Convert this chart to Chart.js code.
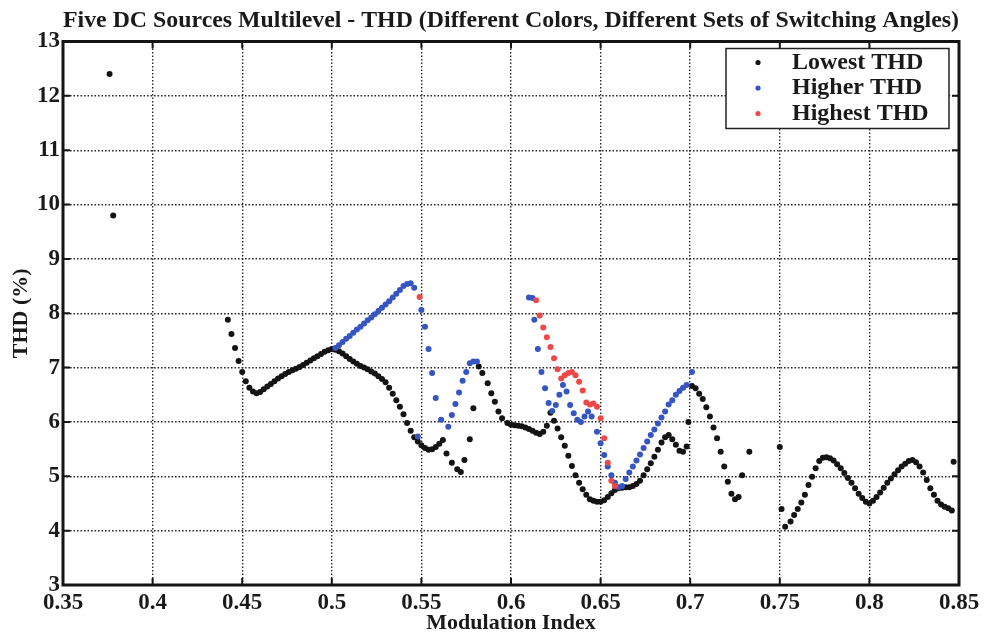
<!DOCTYPE html>
<html>
<head>
<meta charset="utf-8">
<title>Five DC Sources Multilevel - THD</title>
<script src="https://cdn.jsdelivr.net/npm/chart.js@4.4.1/dist/chart.umd.min.js"></script>
<style>
  body { margin: 0; background: #fff; }
  #wrap { width: 987px; height: 640px; }
</style>
</head>
<body>
<div id="wrap"><canvas id="thdChart" width="987" height="640"></canvas></div>
<script>
// ===== Data =====
const xTicks = [0.35, 0.4, 0.45, 0.5, 0.55, 0.6, 0.65, 0.7, 0.75, 0.8, 0.85];
const yTicks = [3, 4, 5, 6, 7, 8, 9, 10, 11, 12, 13];

// Lowest THD (black)
const lowestX = [
  0.376, 0.378,
  0.442, 0.444, 0.446, 0.448, 0.450, 0.452, 0.454, 0.456, 0.458, 0.460,
  0.462, 0.464, 0.466, 0.468, 0.470, 0.472, 0.474, 0.476, 0.478, 0.480,
  0.482, 0.484, 0.486, 0.488, 0.490, 0.492, 0.494, 0.496, 0.498, 0.500,
  0.502, 0.504, 0.506, 0.508, 0.510, 0.512, 0.514, 0.516, 0.518, 0.520,
  0.522, 0.524, 0.526, 0.528, 0.530, 0.532, 0.534, 0.536, 0.538, 0.540,
  0.542, 0.544, 0.546, 0.548, 0.550, 0.552, 0.554, 0.556, 0.558, 0.560,
  0.562, 0.564, 0.567, 0.570, 0.572, 0.574, 0.577, 0.579,
  0.582, 0.584, 0.587, 0.589, 0.591, 0.593, 0.595, 0.598, 0.600,
  0.602, 0.604, 0.606, 0.608, 0.610, 0.612, 0.614, 0.616, 0.618, 0.620,
  0.622, 0.624, 0.626, 0.628, 0.630, 0.632, 0.634, 0.636, 0.638, 0.640,
  0.642, 0.644, 0.646, 0.648, 0.650, 0.652, 0.654, 0.656, 0.658, 0.660,
  0.662, 0.664, 0.666, 0.668, 0.670, 0.672, 0.674, 0.676, 0.678, 0.680,
  0.682, 0.684, 0.686, 0.688, 0.690, 0.692, 0.694, 0.696, 0.698, 0.699,
  0.701, 0.703, 0.705, 0.707, 0.709, 0.711, 0.713, 0.715, 0.717, 0.719,
  0.721, 0.723, 0.725, 0.727, 0.729, 0.733,
  0.750, 0.751, 0.753, 0.756, 0.758, 0.760, 0.762, 0.764, 0.766, 0.768,
  0.770, 0.772, 0.774, 0.776, 0.778, 0.780, 0.782, 0.784, 0.786, 0.788,
  0.790, 0.792, 0.794, 0.796, 0.798, 0.800, 0.802, 0.804, 0.806, 0.808,
  0.810, 0.812, 0.814, 0.816, 0.818, 0.820, 0.822, 0.824, 0.826, 0.828,
  0.830, 0.832, 0.834, 0.836, 0.838, 0.840, 0.842, 0.844, 0.846, 0.847
];
const lowestY = [
  12.40, 9.80,
  7.88, 7.62, 7.36, 7.12, 6.92, 6.75, 6.63, 6.56, 6.53, 6.55,
  6.60, 6.65, 6.70, 6.75, 6.80, 6.84, 6.88, 6.92, 6.95, 6.98,
  7.01, 7.05, 7.09, 7.13, 7.17, 7.21, 7.25, 7.29, 7.32, 7.34,
  7.33, 7.30, 7.26, 7.21, 7.16, 7.11, 7.07, 7.03, 7.00, 6.97,
  6.93, 6.89, 6.84, 6.79, 6.73, 6.63, 6.52, 6.40, 6.28, 6.14,
  5.98, 5.84, 5.72, 5.64, 5.57, 5.52, 5.49, 5.50, 5.54, 5.60,
  5.67, 5.42, 5.25, 5.13, 5.08, 5.30, 5.68, 6.25,
  7.02, 6.90, 6.71, 6.53, 6.37, 6.19, 6.07, 5.98, 5.95,
  5.94, 5.93, 5.92, 5.90, 5.87, 5.84, 5.80, 5.78, 5.82, 5.93,
  6.17, 6.02, 5.88, 5.72, 5.56, 5.38, 5.19, 5.02, 4.88, 4.76,
  4.66, 4.58, 4.55, 4.53, 4.53, 4.56, 4.62, 4.69, 4.75, 4.78,
  4.79, 4.80, 4.80, 4.82, 4.86, 4.92, 5.02, 5.13, 5.24, 5.36,
  5.49, 5.62, 5.72, 5.76, 5.68, 5.58, 5.47, 5.45, 5.55, 6.00,
  6.66, 6.62, 6.52, 6.42, 6.27, 6.10, 5.90, 5.70, 5.45, 5.18,
  4.90, 4.68, 4.58, 4.62, 5.02, 5.45,
  5.54, 4.40, 4.07, 4.17, 4.29, 4.40, 4.52, 4.66, 4.84, 4.99,
  5.15, 5.28, 5.34, 5.35, 5.33, 5.29, 5.22, 5.15, 5.06, 4.97,
  4.88, 4.78, 4.68, 4.60, 4.53, 4.50, 4.55, 4.62, 4.70, 4.79,
  4.88, 4.96, 5.04, 5.11, 5.18, 5.23, 5.28, 5.30, 5.26, 5.18,
  5.07, 4.93, 4.78, 4.66, 4.55, 4.48, 4.44, 4.41, 4.37, 5.27
];

// Higher THD (blue)
const higherX = [
  0.502, 0.504, 0.506, 0.508, 0.510, 0.512, 0.514, 0.516, 0.518, 0.520,
  0.522, 0.524, 0.526, 0.528, 0.530, 0.532, 0.534, 0.536, 0.538, 0.540,
  0.542, 0.544, 0.546, 0.548, 0.550, 0.552, 0.554, 0.556, 0.558, 0.561,
  0.565, 0.567, 0.569, 0.571, 0.573, 0.575, 0.577, 0.579, 0.581,
  0.610, 0.612, 0.613, 0.615, 0.617, 0.619, 0.621, 0.623, 0.625, 0.627,
  0.629, 0.631, 0.633, 0.635, 0.637, 0.639, 0.641, 0.643, 0.645, 0.648,
  0.650, 0.652, 0.654, 0.656, 0.658, 0.660, 0.662, 0.664, 0.666, 0.668,
  0.670, 0.672, 0.674, 0.676, 0.678, 0.680, 0.682, 0.684, 0.686, 0.688,
  0.690, 0.692, 0.694, 0.696, 0.698, 0.701
];
const higherY = [
  7.36, 7.41, 7.47, 7.53, 7.58, 7.64, 7.70, 7.75, 7.81, 7.87,
  7.92, 7.98, 8.04, 8.10, 8.16, 8.22, 8.29, 8.36, 8.43, 8.50,
  8.54, 8.55, 8.47, 5.73, 8.06, 7.75, 7.34, 6.90, 6.44, 6.04,
  5.91, 6.13, 6.33, 6.54, 6.76, 6.92, 7.08, 7.11, 7.11,
  8.29, 8.28, 7.88, 7.34, 6.92, 6.62, 6.35, 6.20, 6.31, 6.50,
  6.68, 6.56, 6.31, 6.16, 6.04, 6.00, 6.10, 6.19, 6.10, 5.82,
  5.61, 5.39, 5.18, 5.02, 4.88, 4.80, 4.82, 4.95, 5.07, 5.18,
  5.29, 5.40, 5.52, 5.64, 5.76, 5.86, 5.97, 6.08, 6.19, 6.32,
  6.40, 6.50, 6.57, 6.63, 6.68, 6.92
];

// Highest THD (red)
const highestX = [
  0.549,
  0.614, 0.616, 0.618, 0.620, 0.622, 0.624, 0.626, 0.628, 0.630, 0.632,
  0.634, 0.636, 0.638, 0.640, 0.642, 0.644, 0.646, 0.648, 0.650, 0.652,
  0.654, 0.656, 0.658
];
const highestY = [
  8.30,
  8.24, 7.96, 7.74, 7.56, 7.38, 7.17, 6.97, 6.80, 6.86, 6.90,
  6.92, 6.86, 6.74, 6.58, 6.36, 6.32, 6.34, 6.28, 6.07, 5.70,
  5.25, 4.92, 4.82
];

const seriesLabels = ['Lowest THD', 'Higher THD', 'Highest THD'];
const seriesColors = ['#141414', '#3556c2', '#f04848'];

function toPoints(xs, ys) {
  return xs.map((x, i) => ({ x: x, y: ys[i] }));
}

// ===== Frame + inward tick marks (MATLAB style box) =====
const framePlugin = {
  id: 'frame',
  afterDatasetsDraw(chart) {
    const { ctx, chartArea: a, scales } = chart;
    ctx.save();
    ctx.strokeStyle = '#151515';
    ctx.lineWidth = 3;
    ctx.strokeRect(a.left, a.top, a.width, a.height);
    ctx.lineWidth = 2;
    ctx.beginPath();
    xTicks.forEach(v => {
      const px = scales.x.getPixelForValue(v);
      ctx.moveTo(px, a.bottom); ctx.lineTo(px, a.bottom - 7);
      ctx.moveTo(px, a.top); ctx.lineTo(px, a.top + 7);
    });
    yTicks.forEach(v => {
      const py = scales.y.getPixelForValue(v);
      ctx.moveTo(a.left, py); ctx.lineTo(a.left + 7, py);
      ctx.moveTo(a.right, py); ctx.lineTo(a.right - 7, py);
    });
    ctx.stroke();
    ctx.restore();
  }
};

// ===== Boxed legend in the upper right corner =====
const legendBoxPlugin = {
  id: 'legendBox',
  afterDraw(chart) {
    const { ctx, chartArea: a } = chart;
    const w = 223, h = 80;
    const left = a.right - 10 - w;
    const top = a.top + 7;
    ctx.save();
    ctx.fillStyle = '#fff';
    ctx.fillRect(left, top, w, h);
    ctx.strokeStyle = '#222';
    ctx.lineWidth = 1.5;
    ctx.strokeRect(left, top, w, h);
    ctx.font = 'bold 24px "Liberation Serif", "Times New Roman", serif';
    ctx.textBaseline = 'middle';
    chart.data.datasets.forEach((ds, i) => {
      const cy = top + 14 + i * 25.5;
      ctx.fillStyle = ds.backgroundColor;
      ctx.beginPath();
      ctx.arc(left + 32, cy, 2.6, 0, Math.PI * 2);
      ctx.fill();
      ctx.fillStyle = '#1a1a1a';
      ctx.fillText(ds.label, left + 66, cy);
    });
    ctx.restore();
  }
};

const serif = '"Liberation Serif", "Times New Roman", serif';

new Chart(document.getElementById('thdChart'), {
  type: 'scatter',
  data: {
    datasets: [
      { label: seriesLabels[0], data: toPoints(lowestX, lowestY), backgroundColor: seriesColors[0], order: 2 },
      { label: seriesLabels[1], data: toPoints(higherX, higherY), backgroundColor: seriesColors[1], order: 1 },
      { label: seriesLabels[2], data: toPoints(highestX, highestY), backgroundColor: seriesColors[2], order: 0 }
    ]
  },
  options: {
    responsive: false,
    animation: false,
    events: [],
    layout: { padding: { left: 0, right: 28, top: 0, bottom: 0 } },
    elements: { point: { radius: 3, borderWidth: 0, pointStyle: 'circle' } },
    plugins: {
      legend: { display: false },
      tooltip: { enabled: false },
      title: {
        display: true,
        fullSize: false,
        text: 'Five DC Sources Multilevel - THD (Different Colors, Different Sets of Switching Angles)',
        color: '#1a1a1a',
        font: { family: serif, size: 24, weight: 'bold' },
        padding: { top: 6, bottom: 6.7 }
      }
    },
    scales: {
      x: {
        type: 'linear',
        min: 0.35,
        max: 0.85,
        afterBuildTicks: s => { s.ticks = xTicks.map(v => ({ value: v })); },
        afterFit: s => { s.height = 55; },
        grid: { color: '#2a2a2a', lineWidth: 1.4, drawTicks: false },
        border: { display: false, dash: [1.6, 1.9] },
        ticks: {
          color: '#1a1a1a',
          padding: 4,
          maxRotation: 0,
          font: { family: serif, size: 23, weight: 'bold' },
          callback: v => String(Number(v.toFixed(2)))
        },
        title: {
          display: true,
          text: 'Modulation Index',
          color: '#1a1a1a',
          font: { family: serif, size: 22, weight: 'bold' },
          padding: { top: 0, bottom: 3 }
        }
      },
      y: {
        type: 'linear',
        min: 3,
        max: 13,
        afterBuildTicks: s => { s.ticks = yTicks.map(v => ({ value: v })); },
        afterFit: s => { s.width = 63; },
        grid: { color: '#2a2a2a', lineWidth: 1.4, drawTicks: false },
        border: { display: false, dash: [1.6, 1.9] },
        ticks: {
          color: '#1a1a1a',
          padding: 3,
          font: { family: serif, size: 23, weight: 'bold' }
        },
        title: {
          display: true,
          text: 'THD (%)',
          color: '#1a1a1a',
          font: { family: serif, size: 22, weight: 'bold' },
          padding: { top: 8, bottom: 0 }
        }
      }
    }
  },
  plugins: [framePlugin, legendBoxPlugin]
});
</script>
</body>
</html>
